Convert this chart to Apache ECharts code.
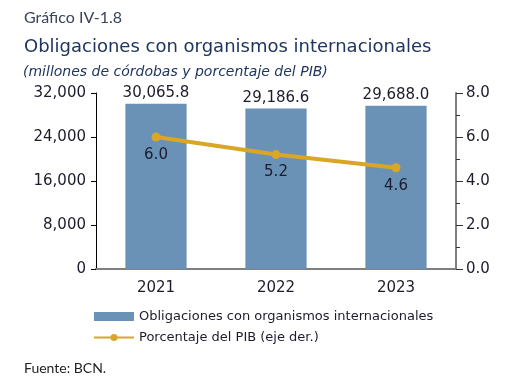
<!DOCTYPE html>
<html>
<head>
<meta charset="utf-8">
<script src="https://cdn.jsdelivr.net/npm/echarts@6/dist/echarts.min.js"></script>
<style>
html,body{margin:0;padding:0;background:#fff;}
#c{width:508px;height:381px;}
</style>
</head>
<body>
<div id="c"></div>
<script>
const categories = ['2021', '2022', '2023'];
const obligaciones = [30065.8, 29186.6, 29688.0];
const porcentajePIB = [6.0, 5.2, 4.6];
const leftTicks = [0, 8000, 16000, 24000, 32000];
const rightTicks = [0, 2, 4, 6, 8];

const chart = echarts.init(document.getElementById('c'), null, {renderer: 'canvas'});
const tickFont = 'DejaVu Sans';
const txt = '#1c1c2c';
const fmtThousands = v => v.toLocaleString('en-US', {minimumFractionDigits: 0, maximumFractionDigits: 0});
const fmtOne = v => v.toLocaleString('en-US', {minimumFractionDigits: 1, maximumFractionDigits: 1});

chart.setOption({
  animation: false,
  backgroundColor: '#fff',
  title: [
    {text: 'Gráfico IV-1.8', left: 19, top: 5, textStyle: {fontFamily: 'Lato', fontWeight: 'normal', fontSize: 16, color: '#3a4458'}},
    {text: 'Obligaciones con organismos internacionales', left: 19, top: 33, textStyle: {fontFamily: 'DejaVu Sans', fontWeight: 'normal', fontSize: 18, color: '#1f3560'}},
    {text: '(millones de córdobas y porcentaje del PIB)', left: 18, top: 60, textStyle: {fontFamily: 'DejaVu Sans', fontStyle: 'italic', fontWeight: 'normal', fontSize: 14, color: '#1f3560'}},
    {text: 'Fuente: BCN.', left: 19, top: 356, textStyle: {fontFamily: 'Lato', fontWeight: 'normal', fontSize: 14, color: '#222'}}
  ],
  legend: {
    orient: 'vertical',
    left: 88,
    top: 305,
    itemWidth: 40,
    itemHeight: 9,
    itemGap: 8,
    textStyle: {fontFamily: tickFont, fontSize: 13, color: txt},
    data: [
      {name: 'Obligaciones con organismos internacionales', icon: 'rect'},
      {name: 'Porcentaje del PIB (eje der.)'}
    ]
  },
  grid: {left: 96, right: 52, top: 93, bottom: 112, containLabel: false},
  xAxis: {
    type: 'category',
    data: categories,
    axisLine: {lineStyle: {color: '#7f7f7f', width: 2}},
    axisTick: {show: false},
    axisLabel: {fontFamily: tickFont, fontSize: 15, color: txt, margin: 12}
  },
  yAxis: [
    {
      type: 'value', min: 0, max: 32000, interval: 8000,
      axisLine: {show: true, lineStyle: {color: '#000', width: 1}},
      axisTick: {show: true, length: 5, lineStyle: {color: '#000'}},
      splitLine: {show: false},
      axisLabel: {fontFamily: tickFont, fontSize: 15, color: txt, margin: 10, formatter: fmtThousands}
    },
    {
      type: 'value', min: 0, max: 8, interval: 2,
      position: 'right',
      axisLine: {show: true, lineStyle: {color: '#7f7f7f', width: 2}},
      axisTick: {show: true, length: 7, lineStyle: {color: '#333'}},
      minorTick: {show: true, splitNumber: 2, length: 4, lineStyle: {color: '#333'}},
      splitLine: {show: false},
      axisLabel: {fontFamily: tickFont, fontSize: 15, color: txt, margin: 10, formatter: v => v.toFixed(1)}
    }
  ],
  series: [
    {
      name: 'Obligaciones con organismos internacionales',
      type: 'bar',
      data: obligaciones,
      barWidth: '51%',
      itemStyle: {color: '#6a92b6'},
      label: {show: true, position: 'top', distance: 3, fontFamily: tickFont, fontSize: 15, color: txt, formatter: p => fmtOne(p.value)}
    },
    {
      name: 'Porcentaje del PIB (eje der.)',
      type: 'line',
      yAxisIndex: 1,
      data: porcentajePIB,
      symbol: 'circle',
      symbolSize: 9,
      lineStyle: {color: '#d9a628', width: 4},
      itemStyle: {color: '#d9a628'},
      label: {show: true, position: 'bottom', distance: 6, fontFamily: tickFont, fontSize: 15, color: txt, formatter: p => p.value.toFixed(1)},
      z: 5
    }
  ]
});
</script>
</body>
</html>
